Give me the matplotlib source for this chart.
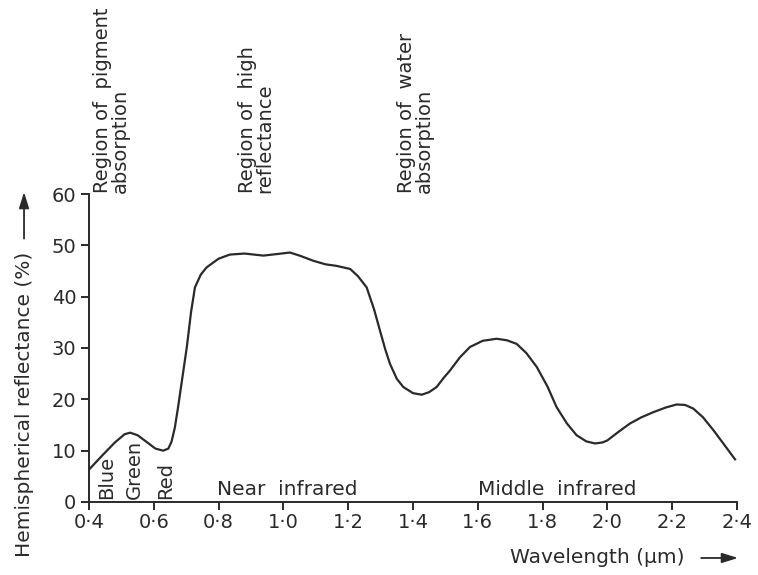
#!/usr/bin/env python3
"""Typical spectral reflectance curve of green vegetation."""

import matplotlib
matplotlib.use("Agg")
import matplotlib.pyplot as plt
from matplotlib.patches import FancyArrowPatch

# Curve (wavelength in um, reflectance in %)
wavelength = [
    0.400, 0.440, 0.480, 0.510, 0.527, 0.550, 0.580, 0.605, 0.629, 0.645,
    0.655, 0.665, 0.675, 0.690, 0.702, 0.715, 0.727, 0.745, 0.763, 0.800,
    0.835, 0.880, 0.938, 0.980, 1.020, 1.050, 1.092, 1.130, 1.164, 1.206,
    1.230, 1.257, 1.280, 1.298, 1.315, 1.329, 1.350, 1.370, 1.400, 1.427,
    1.450, 1.473, 1.495, 1.514, 1.545, 1.576, 1.615, 1.658, 1.690, 1.720,
    1.750, 1.782, 1.815, 1.843, 1.875, 1.905, 1.935, 1.962, 1.985, 2.000,
    2.035, 2.070, 2.105, 2.142, 2.180, 2.214, 2.240, 2.265, 2.295, 2.327,
    2.360, 2.394,
]
reflectance = [
    6.3, 9.0, 11.6, 13.2, 13.5, 13.0, 11.6, 10.4, 10.0, 10.4,
    11.8, 14.5, 18.5, 25.0, 30.2, 37.0, 41.8, 44.3, 45.7, 47.4,
    48.2, 48.4, 48.0, 48.3, 48.6, 48.0, 47.0, 46.3, 46.0, 45.4,
    44.0, 41.8, 37.5, 33.4, 29.6, 26.9, 24.0, 22.4, 21.2, 20.9,
    21.4, 22.4, 24.2, 25.6, 28.2, 30.2, 31.4, 31.8, 31.5, 30.8,
    29.0, 26.3, 22.5, 18.5, 15.3, 13.0, 11.8, 11.4, 11.6, 12.0,
    13.7, 15.3, 16.5, 17.5, 18.4, 19.0, 18.9, 18.2, 16.5, 14.0,
    11.2, 8.3,
]

x_ticks = [0.4, 0.6, 0.8, 1.0, 1.2, 1.4, 1.6, 1.8, 2.0, 2.2, 2.4]
x_tick_labels = ["0\u00b74", "0\u00b76", "0\u00b78", "1\u00b70", "1\u00b72",
                 "1\u00b74", "1\u00b76", "1\u00b78", "2\u00b70", "2\u00b72",
                 "2\u00b74"]
y_ticks = [0, 10, 20, 30, 40, 50, 60]

# Top annotations (rotated), bottom band names
region_labels = ["Region of  pigment\nabsorption",
                 "Region of  high\nreflectance",
                 "Region of  water\nabsorption"]
region_x = [0.412, 0.860, 1.351]
band_labels = ["Blue", "Green", "Red"]
band_x = [0.455, 0.539, 0.638]
range_labels = ["Near  infrared", "Middle  infrared"]
range_x = [1.011, 1.844]

ink = "#2a2a2a"
plt.rcParams["font.family"] = ["DejaVu Sans"]

fig = plt.figure(figsize=(7.58, 5.75), dpi=100)
ax = fig.add_axes([0.1174, 0.127, 0.8549, 0.5356])

ax.plot(wavelength, reflectance, color=ink, lw=1.6)

ax.set_xlim(0.4, 2.4)
ax.set_ylim(0, 60)
ax.set_xticks(x_ticks)
ax.set_xticklabels(x_tick_labels)
ax.set_yticks(y_ticks)

for side in ["top", "right"]:
    ax.spines[side].set_visible(False)
for side in ["left", "bottom"]:
    ax.spines[side].set_linewidth(1.4)
    ax.spines[side].set_color(ink)
ax.tick_params(axis="both", direction="out", length=6, width=1.4,
               color=ink, labelcolor=ink, labelsize=14)
ax.tick_params(axis="x", pad=2)
ax.tick_params(axis="y", pad=3)

for label, x in zip(region_labels, region_x):
    ax.text(x, 60.2, label, rotation=90, rotation_mode="anchor",
            ha="left", va="top", multialignment="left",
            fontsize=14, color=ink, linespacing=0.9, clip_on=False)

for label, x in zip(band_labels, band_x):
    ax.text(x, 0.5, label, rotation=90, rotation_mode="anchor",
            ha="left", va="center", fontsize=14, color=ink)

for label, x in zip(range_labels, range_x):
    ax.text(x, 0.6, label, ha="center", va="bottom", fontsize=14.5, color=ink)

# axis titles with long arrows drawn next to them
fig.text(0.0317, 0.031, "Hemispherical reflectance (%)", rotation=90,
         rotation_mode="anchor", ha="left", va="center", fontsize=14.5,
         color=ink)
fig.text(0.673, 0.0296, "Wavelength (\u03bcm)", ha="left", va="center",
         fontsize=14.5, color=ink)
arrow = dict(arrowstyle="-|>,head_length=0.8,head_width=0.25", lw=1.3,
             color=ink, shrinkA=0, shrinkB=0, mutation_scale=12)
fig.add_artist(FancyArrowPatch((0.0317, 0.585), (0.0317, 0.666),
                               transform=fig.transFigure, **arrow))
fig.add_artist(FancyArrowPatch((0.925, 0.0296), (0.9736, 0.0296),
                               transform=fig.transFigure, **arrow))

plt.savefig("out.png", dpi=100)
